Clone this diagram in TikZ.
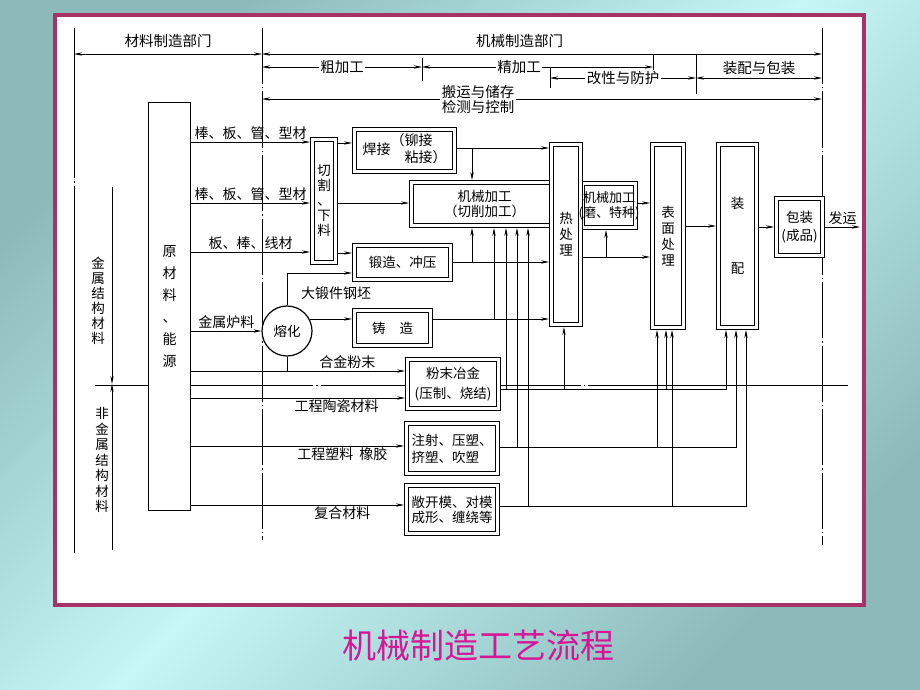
\documentclass[tikz,border=0pt]{standalone}
\usepackage{fontspec}
\setmainfont{Noto Sans CJK SC}
\usepackage{tikz}
\usetikzlibrary{arrows.meta}
\definecolor{bgdark}{RGB}{140,186,186}
\definecolor{bglight}{RGB}{198,246,246}
\definecolor{framered}{RGB}{166,50,104}
\definecolor{titlepink}{RGB}{214,22,150}
\newcommand{\boxfont}{\fontsize{13.5pt}{15pt}\selectfont}
\newcommand{\lblfont}{\fontsize{14pt}{16pt}\selectfont}
\newcommand{\bandfont}{\fontsize{14.5pt}{15pt}\selectfont}
\tikzstyle{dbox}=[draw,fill=white,rectangle,double,double distance=2.8pt,line width=1.1pt,outer sep=2.5pt,inner sep=0pt,align=center,font=\boxfont]
\tikzstyle{sbox}=[draw,fill=white,rectangle,line width=1.3pt,inner sep=0pt,align=center]
\tikzstyle{lbl}=[font=\lblfont,inner sep=1.5pt]
\tikzstyle{chainline}=[line width=0.7pt,dash pattern=on 56pt off 3pt on 1.5pt off 3pt]

\begin{document}
\begin{tikzpicture}[x=1pt,y=-1pt,line width=0.8pt,>={Stealth[length=8pt,width=3.4pt]}]
\useasboundingbox (0, 0) rectangle (920, 690);
\shade[top color=bgdark,bottom color=bgdark,middle color=bglight,shading angle=45] (0, 0) rectangle (920, 690);
\draw[line width=4pt,draw=framered,fill=white] (55, 15) rectangle (864, 605);

% department bands
\draw[chainline,dash pattern=on 150pt off 3pt on 1.5pt off 3pt on 600pt off 1pt] (74, 28) -- (74, 553);
\draw[chainline] (262, 28) -- (262, 540);
\draw[chainline] (822, 28) -- (822, 545);
\draw (422, 58) -- (422, 81);
\draw (653, 54) -- (653, 70);
\draw (550, 68) -- (550, 88);
\draw (696, 55) -- (696, 94);
\coordinate (a0) at (74, 54);
\coordinate (a1) at (262, 54);
\coordinate (a2) at (822, 54);
\draw[<->] (a0) -- (a1) node[lbl,font=\bandfont,midway,above=4pt] {材料制造部门};
\draw[<->] (a1) -- (a2) node[lbl,font=\bandfont,pos=0.46,above=4pt] {机械制造部门};
\coordinate (b0) at (262, 67);
\coordinate (b1) at (422, 67);
\coordinate (b2) at (653, 67);
\draw[<->] (b0) -- (b1) node[lbl,font=\bandfont,midway,fill=white] {粗加工};
\draw[<->] (b1) -- (b2) node[lbl,font=\bandfont,pos=0.42,fill=white] {精加工};
\coordinate (c0) at (550, 78);
\coordinate (c1) at (696, 78);
\coordinate (c2) at (822, 78);
\draw[<->] (c0) -- (c1) node[lbl,font=\bandfont,midway,fill=white] {改性与防护};
\draw[<->] (c1) -- (c2) node[lbl,font=\bandfont,midway,above=1pt] {装配与包装};
\coordinate (d0) at (262, 99);
\coordinate (d1) at (822, 99);
\draw[<->] (d0) -- (d1) node[lbl,font=\bandfont,pos=0.386,fill=white,align=center] {搬运与储存\\检测与控制};

% metal / non-metal
\coordinate (m0) at (112, 187);
\coordinate (m1) at (112, 384);
\coordinate (m2) at (112, 550);
\coordinate (e0) at (95, 385);
\coordinate (e1) at (848, 385);
\draw[chainline,dash pattern=on 260pt off 3pt on 1.5pt off 3pt,dash phase=42pt] (e0) -- (e1);
\draw[->] (m0) -- (m1);
\draw[->] (m2) -- (m1);
\draw (98, 301) node[font=\fontsize{13.5pt}{15pt}\selectfont,align=center] (metal) {金\\属\\结\\构\\材\\料};
\draw (102, 460) node[font=\fontsize{13.5pt}{15.5pt}\selectfont,align=center] (nonmetal) {非\\金\\属\\结\\构\\材\\料};

% boxes
\draw (169.5, 306.5) node[sbox,minimum width=42pt,minimum height=408pt,font=\fontsize{14pt}{22pt}\selectfont] (raw) {原\\材\\料\\、\\能\\源};
\draw (324, 201) node[dbox,minimum width=23pt,minimum height=123pt] (cut) {切\\割\\、\\下\\料};
\draw (404.5, 150.5) node[dbox,minimum width=100pt,minimum height=42pt,font=\fontsize{14pt}{16pt}\selectfont] (weld) {焊接\begin{tabular}{@{}l@{}}（铆接\\\phantom{（}粘接）\end{tabular}};
\draw (484.5, 204) node[dbox,minimum width=146pt,minimum height=43pt] (mach1) {机械加工\\（切削加工）};
\draw (609, 205.5) node[dbox,minimum width=53pt,minimum height=44pt] (mach2) {};
\draw (566, 234.5) node[dbox,minimum width=29pt,minimum height=180pt,font=\fontsize{13.5pt}{16pt}\selectfont] (heat) {热\\处\\理};
\draw (609, 205.5) node[font=\fontsize{13pt}{15pt}\selectfont,align=center] (mach2txt) {机械加工\\(磨、特种)};
\draw (402.5, 262.5) node[dbox,minimum width=96pt,minimum height=34pt] (forge) {锻造、冲压};
\draw (287, 331) node[circle,draw,fill=white,line width=1.2pt,minimum size=50pt,inner sep=0pt,font=\boxfont] (melt) {熔化};
\draw (392.5, 328) node[dbox,minimum width=76pt,minimum height=35pt] (cast) {铸\hspace{14pt}造};
\draw (453, 384) node[dbox,minimum width=91pt,minimum height=49pt] (powder) {粉末冶金\\[5pt](压制、烧结)};
\draw (452, 448.5) node[dbox,minimum width=91pt,minimum height=50pt,align=left] (inject) {注射、压塑、\\[2pt]挤塑、吹塑};
\draw (452, 509.5) node[dbox,minimum width=91pt,minimum height=48pt] (comp) {敞开模、对模\\成形、缠绕等};
\draw (668, 236) node[dbox,minimum width=31pt,minimum height=183pt,font=\fontsize{13.5pt}{16pt}\selectfont] (surf) {表\\面\\处\\理};
\draw (737.5, 236) node[dbox,minimum width=38pt,minimum height=183pt] (asm) {装\\[50pt]配};
\draw (799.5, 227) node[dbox,minimum width=46pt,minimum height=57pt,font=\fontsize{13.5pt}{18pt}\selectfont] (pack) {包装\\(成品)};

% from raw materials
\draw[->] (raw.east |- 0,142) -- (cut.west |- 0,142) node[lbl,midway,above] {棒、板、管、型材};
\draw[->] (raw.east |- 0,203) -- (cut.west |- 0,203) node[lbl,midway,above] {棒、板、管、型材};
\draw[->] (raw.east |- 0,252) -- (cut.west |- 0,252) node[lbl,midway,above] {板、棒、线材};
\draw[->] (raw.east |- melt.west) -- (melt.west) node[lbl,midway,above] {金属炉料};
\draw[->] (raw.east |- 0,371) -- (powder.west |- 0,371) node[lbl,pos=0.73,above] {合金粉末};
\draw[->] (raw.east |- 0,398) -- (powder.west |- 0,398) node[lbl,pos=0.68,below] {工程陶瓷材料};
\draw[->] (raw.east |- 0,446) -- (inject.west |- 0,446) node[lbl,pos=0.71,below] {工程塑料\hspace{6pt}橡胶};
\draw[->] (raw.east |- 0,505) -- (comp.west |- 0,505) node[lbl,pos=0.71,below] {复合材料};

% cutting and melting
\draw[->] (cut.east |- 0,143) -- (weld.west |- 0,143);
\draw[->] (cut.east |- 0,203) -- (mach1.west |- 0,203);
\draw[->] (cut.east |- 0,253) -- (forge.west |- 0,253);
\draw[->] (melt.north) |- (forge.west |- 0,273);
\draw[->] (melt.28) -- (cast.west |- melt.28);
\draw (melt.south) -- (melt.south |- 0,371);
\draw (336, 293) node[lbl] (billet) {大锻件钢坯};

% into machining and heat treatment
\coordinate (wj) at (472, 148);
\coordinate (fj) at (472, 262);
\coordinate (cj) at (494, 319);
\draw[->] (weld.east |- wj) -- (heat.west |- wj);
\draw[->] (wj) -- (wj |- mach1.north);
\draw[->] (forge.east |- fj) -- (heat.west |- fj);
\draw[->] (fj) -- (fj |- mach1.south);
\draw[->] (cast.east |- cj) -- (heat.west |- cj);
\draw[->] (cj) -- (cj |- mach1.south);

% powder, plastics, composites
\coordinate (p1) at (506, 389);
\coordinate (p2) at (564, 389);
\coordinate (p3) at (666, 389);
\draw[->] (powder.east |- p1) -| (asm.south -| 726,0);
\draw[->] (p1) -- (p1 |- mach1.south);
\draw[->] (p2) -- (p2 |- heat.south);
\draw[->] (p3) -- (p3 |- surf.south);
\coordinate (i1) at (517, 447);
\coordinate (i2) at (657, 447);
\draw[->] (inject.east |- i1) -| (asm.south -| 736,0);
\draw[->] (i1) -- (i1 |- mach1.south);
\draw[->] (i2) -- (i2 |- surf.south);
\coordinate (k1) at (528, 506);
\coordinate (k2) at (672, 506);
\draw[->] (comp.east |- k1) -| (asm.south -| 746,0);
\draw[->] (k1) -- (k1 |- mach1.south);
\draw[->] (k2) -- (k2 |- surf.south);

% finishing
\coordinate (hj) at (606, 257);
\draw[->] (heat.east |- hj) -- (surf.west |- hj);
\draw[->] (hj) -- (hj |- mach2.south);
\draw[->] (mach2.east |- 0,203) -- (surf.west |- 0,203);
\draw[->] (surf.east |- 0,226) -- (asm.west |- 0,226);
\draw[->] (asm.east |- pack.west) -- (pack.west);
\coordinate (ship) at (860, 227);
\draw[->] (pack.east) -- (ship) node[lbl,midway,above] {发运};

\draw (478, 646) node[font=\fontsize{34pt}{40pt}\selectfont,text=titlepink] (title) {机械制造工艺流程};
\end{tikzpicture}
\end{document}
